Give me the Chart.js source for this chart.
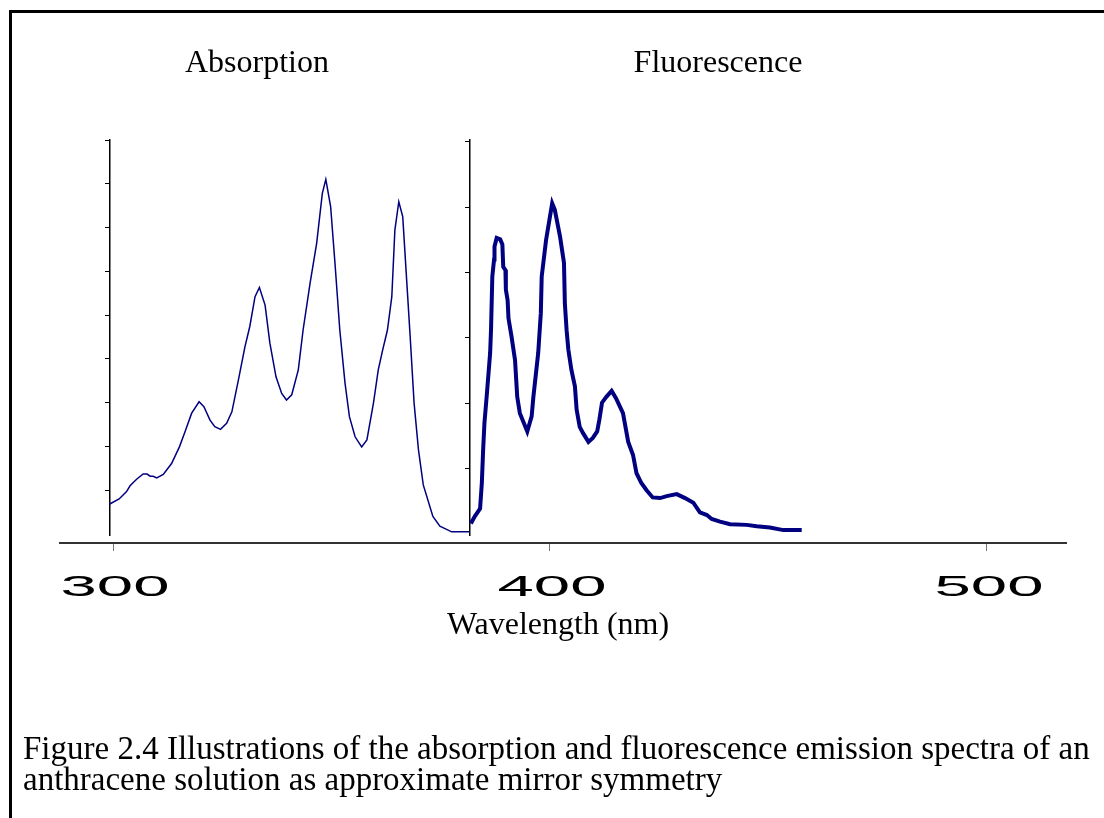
<!DOCTYPE html>
<html>
<head>
<meta charset="utf-8">
<title>Absorption and fluorescence spectra</title>
<script src="https://cdn.jsdelivr.net/npm/chart.js@4.4.1/dist/chart.umd.min.js"></script>
<style>
  html, body { margin: 0; padding: 0; background: #fff; }
  canvas { display: block; }
</style>
</head>
<body>
<canvas id="spectraChart" width="1104" height="818"></canvas>
<script>
// absorption spectrum (thin line), arbitrary units
const absWavelength = [299.15, 301.4, 303.1, 303.9, 305.4, 306.9, 307.8, 308.5, 309.2, 310.0, 311.5, 313.4, 315.2, 316.5, 318.0, 319.7, 320.8, 322.2, 323.3, 324.6, 326.0, 327.2, 328.7, 330.2, 331.3, 332.5, 333.5, 334.8, 335.9, 337.3, 338.6, 339.7, 340.9, 342.4, 343.5, 345.1, 346.6, 347.9, 348.7, 349.8, 350.8, 351.9, 353.1, 354.1, 355.4, 356.9, 358.1, 359.6, 360.7, 361.7, 362.8, 363.8, 364.5, 365.4, 366.3, 367.2, 368.0, 368.9, 369.9, 371.0, 373.2, 374.8, 377.5, 381.5];
const absValue = [0.68, 0.80, 0.97, 1.10, 1.25, 1.37, 1.37, 1.32, 1.32, 1.28, 1.36, 1.61, 1.99, 2.34, 2.76, 3.02, 2.91, 2.60, 2.45, 2.39, 2.53, 2.79, 3.52, 4.28, 4.74, 5.42, 5.63, 5.23, 4.36, 3.59, 3.21, 3.06, 3.18, 3.75, 4.66, 5.73, 6.64, 7.78, 8.10, 7.48, 6.18, 4.66, 3.44, 2.68, 2.22, 1.99, 2.15, 2.99, 3.75, 4.20, 4.66, 5.42, 6.94, 7.59, 7.25, 5.80, 4.51, 2.99, 1.92, 1.12, 0.40, 0.18, 0.05, 0.05];

// fluorescence emission spectrum (thick line), arbitrary units
const fluWavelength = [381.9, 382.8, 384.0, 384.4, 384.7, 385.0, 385.5, 386.3, 386.5, 386.8, 387.2, 387.3, 387.8, 388.6, 389.1, 389.3, 389.8, 389.9, 390.3, 390.5, 391.2, 392.0, 392.5, 393.1, 394.8, 395.8, 396.2, 397.3, 397.9, 398.1, 399.1, 400.0, 400.5, 401.1, 402.3, 403.2, 403.4, 403.8, 404.2, 404.9, 405.7, 406.1, 406.8, 407.6, 408.8, 409.8, 410.8, 411.3, 411.9, 412.9, 414.1, 415.1, 416.7, 417.9, 419.0, 419.8, 420.9, 422.1, 423.5, 425.2, 426.7, 429.0, 430.9, 432.8, 434.3, 435.9, 437.0, 438.9, 441.2, 445.0, 447.3, 450.3, 453.4, 457.6];
const fluValue = [0.16, 0.27, 0.39, 0.78, 1.29, 1.70, 2.10, 2.77, 3.12, 3.94, 4.20, 4.40, 4.53, 4.51, 4.43, 4.09, 4.04, 3.74, 3.58, 3.30, 3.02, 2.66, 2.10, 1.85, 1.57, 1.80, 2.10, 2.77, 3.38, 3.94, 4.50, 4.86, 5.06, 4.96, 4.55, 4.15, 3.53, 3.12, 2.82, 2.51, 2.26, 1.90, 1.64, 1.54, 1.41, 1.47, 1.57, 1.75, 2.01, 2.10, 2.19, 2.08, 1.85, 1.41, 1.21, 0.93, 0.78, 0.67, 0.56, 0.55, 0.58, 0.61, 0.55, 0.48, 0.33, 0.29, 0.23, 0.19, 0.15, 0.14, 0.12, 0.10, 0.06, 0.06];

const panelTitles = ['Absorption', 'Fluorescence'];
const axisTitle = 'Wavelength (nm)';
const captionLines = [
  'Figure 2.4 Illustrations of the absorption and fluorescence emission spectra of an',
  'anthracene solution as approximate mirror symmetry'
];

const toPoints = (xs, ys) => xs.map((x, i) => ({ x: x, y: ys[i] }));

const NAVY = '#000080';
const SERIF = '"Liberation Serif", "Times New Roman", serif';

// frame, panel titles, wide tick numbers and the caption
const decorations = {
  id: 'decorations',
  afterDraw(chart) {
    const ctx = chart.ctx;
    const xs = chart.scales.x;
    ctx.save();

    ctx.strokeStyle = '#000';
    ctx.lineWidth = 3;
    ctx.beginPath();
    ctx.moveTo(10.5, 818);
    ctx.lineTo(10.5, 11.5);
    ctx.lineTo(1104, 11.5);
    ctx.stroke();

    ctx.fillStyle = '#000';
    ctx.font = '32px ' + SERIF;
    ctx.textAlign = 'center';
    ctx.textBaseline = 'alphabetic';
    ctx.fillText(panelTitles[0], 257, 72);
    ctx.fillText(panelTitles[1], 718, 72);

    // tick numbers are drawn stretched sideways
    ctx.font = '29px "Liberation Sans", Arial, sans-serif';
    xs.ticks.forEach(t => {
      const px = xs.getPixelForValue(t.value);
      ctx.save();
      ctx.translate(px + 2, 596);
      ctx.scale(2.25, 1);
      ctx.fillText(String(t.value), 0, 0);
      ctx.restore();
    });

    ctx.font = '32px ' + SERIF;
    ctx.fillText(axisTitle, 558, 634);

    ctx.font = '33px ' + SERIF;
    ctx.textAlign = 'left';
    ctx.fillText(captionLines[0], 23, 759);
    ctx.fillText(captionLines[1], 23, 790);
    ctx.restore();
  }
};

const yTickStyle = {
  display: true,
  drawOnChartArea: false,
  drawTicks: true,
  tickLength: 4,
  color: '#000',
  lineWidth: 1
};

const config = {
  type: 'line',
  data: {
    datasets: [
      {
        label: 'Absorption',
        data: toPoints(absWavelength, absValue),
        borderColor: NAVY,
        borderWidth: 1.5,
        pointRadius: 0,
        tension: 0,
        xAxisID: 'x',
        yAxisID: 'y'
      },
      {
        label: 'Fluorescence',
        data: toPoints(fluWavelength, fluValue),
        borderColor: NAVY,
        borderWidth: 4,
        pointRadius: 0,
        tension: 0,
        xAxisID: 'x',
        yAxisID: 'y2'
      }
    ]
  },
  options: {
    responsive: false,
    animation: false,
    devicePixelRatio: 1,
    layout: { padding: { left: 60, right: 38, top: 140, bottom: 283 } },
    plugins: {
      legend: { display: false },
      title: { display: false },
      tooltip: { enabled: false }
    },
    scales: {
      x: {
        type: 'linear',
        min: 287.87,
        max: 518.08,
        position: { y: -0.2056 },
        ticks: { display: false, stepSize: 100, includeBounds: false },
        grid: { display: true, drawOnChartArea: false, drawTicks: true, tickLength: 7, color: '#777', lineWidth: 1 },
        border: { display: true, color: '#333', width: 2 }
      },
      y: {
        type: 'linear',
        min: -0.023,
        max: 9,
        position: { x: 299.15 },
        ticks: { display: false, stepSize: 1, includeBounds: false },
        afterBuildTicks: s => { s.ticks = s.ticks.filter(t => t.value > 0); },
        grid: yTickStyle,
        border: { display: true, color: '#000', width: 1.5 }
      },
      y2: {
        type: 'linear',
        min: -0.015,
        max: 6.03,
        position: { x: 381.53 },
        ticks: { display: false, stepSize: 1, includeBounds: false },
        afterBuildTicks: s => { s.ticks = s.ticks.filter(t => t.value > 0); },
        grid: yTickStyle,
        border: { display: true, color: '#000', width: 1.5 }
      }
    }
  },
  plugins: [decorations]
};

const spectraChart = new Chart(document.getElementById('spectraChart'), config);
</script>
</body>
</html>
